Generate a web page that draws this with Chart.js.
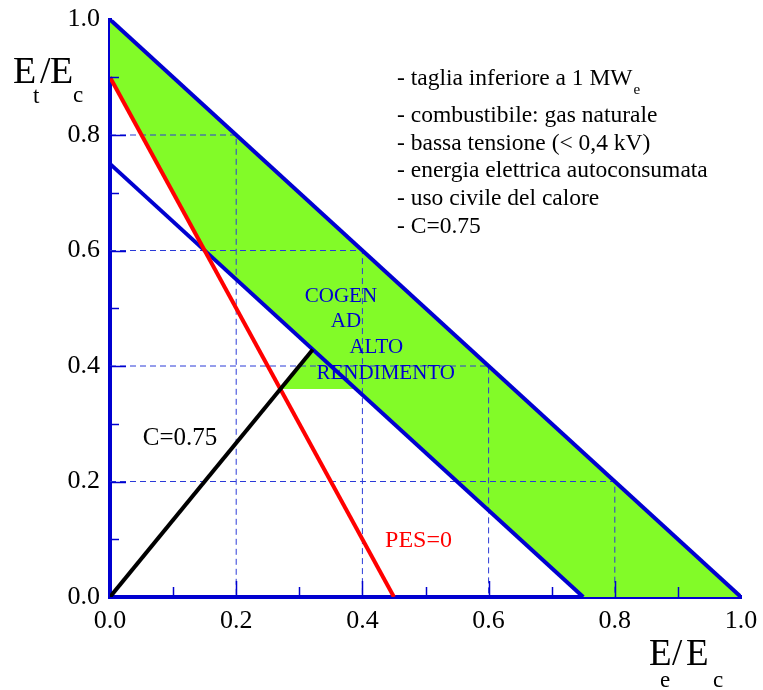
<!DOCTYPE html>
<html>
<head>
<meta charset="utf-8">
<script src="https://cdn.jsdelivr.net/npm/chart.js@4.4.0/dist/chart.umd.min.js"></script>
<style>
  html, body { margin: 0; padding: 0; background: #fff; }
  #wrap { width: 763px; height: 690px; position: relative; }
</style>
</head>
<body>
<div id="wrap"><canvas id="cogenChart"></canvas></div>
<script>
// x = Ee/Ec, y = Et/Ec
const outerLine = [{x: 0, y: 1.0}, {x: 1.0, y: 0}];
const innerLine = [{x: 0, y: 0.75}, {x: 0.75, y: 0}];
const pesLine = [{x: 0, y: 0.9}, {x: 0.45, y: 0}];
const cLine = [{x: 0, y: 0}, {x: 0.3214, y: 0.4286}];
// high efficiency area (closed shape)
const greenRegion = [
    {x: 0, y: 1.0}, {x: 1.0, y: 0}, {x: 0.75, y: 0}, {x: 0.39, y: 0.36},
    {x: 0.27, y: 0.36}, {x: 0.3214, y: 0.4286}, {x: 0.15, y: 0.6}, {x: 0, y: 0.9}
];
// dashed reference corners on the outer line
const guideCorners = [[0.2, 0.8], [0.4, 0.6], [0.6, 0.4], [0.8, 0.2]];

const legendLines = [
    '- taglia inferiore a 1 MW',
    '- combustibile: gas naturale',
    '- bassa tensione (< 0,4 kV)',
    '- energia elettrica autoconsumata',
    '- uso civile del calore',
    '- C=0.75'
];
const regionLabels = [
    {text: 'COGEN', x: 0.366, y: 0.511},
    {text: 'AD', x: 0.374, y: 0.4675},
    {text: 'ALTO', x: 0.422, y: 0.4225},
    {text: 'RENDIMENTO', x: 0.437, y: 0.3775}
];
const curveLabels = [
    {text: 'C=0.75', x: 0.052, y: 0.263, color: '#000000', size: 25},
    {text: 'PES=0', x: 0.436, y: 0.087, color: '#ff0000', size: 24}
];

const BLUE = '#0000d0';
const SERIF = '"Liberation Serif", "DejaVu Serif", serif';

const guideSets = guideCorners.map(c => ({
    data: [{x: 0, y: c[1]}, {x: c[0], y: c[1]}, {x: c[0], y: 0}],
    borderColor: '#2a3ad8',
    borderWidth: 1,
    borderDash: [6, 4],
    pointRadius: 0,
    fill: false,
    order: 5
}));

const isMajor = v => Math.round(v * 10) % 2 === 0;

// inward tick marks, texts
const extrasPlugin = {
    id: 'extras',
    afterDraw(chart) {
        const {ctx, chartArea, scales} = chart;
        const xs = scales.x, ys = scales.y;
        ctx.save();
        ctx.strokeStyle = BLUE;
        ctx.lineWidth = 1.5;
        ys.ticks.forEach(t => {
            if (t.value <= 0 || t.value >= 1) return;
            const py = Math.round(ys.getPixelForValue(t.value)) + 0.5;
            const len = isMajor(t.value) ? 16 : 9;
            ctx.beginPath();
            ctx.moveTo(chartArea.left, py);
            ctx.lineTo(chartArea.left + len, py);
            ctx.stroke();
        });
        xs.ticks.forEach(t => {
            if (t.value <= 0 || t.value >= 1) return;
            const px = Math.round(xs.getPixelForValue(t.value)) + 0.5;
            const len = isMajor(t.value) ? 16 : 10;
            ctx.beginPath();
            ctx.moveTo(px, chartArea.bottom);
            ctx.lineTo(px, chartArea.bottom - len);
            ctx.stroke();
        });

        ctx.textBaseline = 'alphabetic';
        // region labels
        ctx.fillStyle = BLUE;
        ctx.textAlign = 'center';
        ctx.font = '21px ' + SERIF;
        regionLabels.forEach(l => {
            ctx.fillText(l.text, xs.getPixelForValue(l.x), ys.getPixelForValue(l.y));
        });
        ctx.textAlign = 'left';
        curveLabels.forEach(l => {
            ctx.fillStyle = l.color;
            ctx.font = l.size + 'px ' + SERIF;
            ctx.fillText(l.text, xs.getPixelForValue(l.x), ys.getPixelForValue(l.y));
        });

        // notes
        ctx.fillStyle = '#000';
        ctx.font = '23.5px ' + SERIF;
        const baselines = [85, 122, 150, 177, 205, 233];
        legendLines.forEach((s, i) => ctx.fillText(s, 397, baselines[i]));
        const w0 = ctx.measureText(legendLines[0]).width;
        ctx.font = '15px ' + SERIF;
        ctx.fillText('e', 398 + w0, 94);

        // axis titles
        ctx.font = '38px ' + SERIF;
        ctx.fillText('E', 13, 83);
        ctx.fillText('/', 40, 83);
        ctx.fillText('E', 50, 83);
        ctx.font = '23px ' + SERIF;
        ctx.fillText('t', 33, 103);
        ctx.fillText('c', 73, 102);

        ctx.font = '37px ' + SERIF;
        ctx.fillText('E', 649, 665);
        ctx.fillText('/', 672, 665);
        ctx.fillText('E', 686, 665);
        ctx.font = '23px ' + SERIF;
        ctx.fillText('e', 660, 687);
        ctx.fillText('c', 713, 687);
        ctx.restore();
    }
};

const ctx = document.getElementById('cogenChart').getContext('2d');
const cogenChart = new Chart(ctx, {
    type: 'line',
    data: {
        datasets: [
            {data: cLine, borderColor: '#000000', borderWidth: 4, pointRadius: 0, fill: false, order: 1},
            {data: pesLine, borderColor: '#ff0000', borderWidth: 4, pointRadius: 0, fill: false, order: 2},
            {data: outerLine, borderColor: BLUE, borderWidth: 4, pointRadius: 0, fill: false, order: 3},
            {data: innerLine, borderColor: BLUE, borderWidth: 4, pointRadius: 0, fill: false, order: 3},
            ...guideSets,
            {data: greenRegion, borderWidth: 0, borderColor: 'rgba(0,0,0,0)',
             backgroundColor: '#82fb28', pointRadius: 0, fill: 'shape', order: 9}
        ]
    },
    options: {
        responsive: true,
        maintainAspectRatio: false,
        animation: false,
        layout: {padding: {top: 19.5, right: 22, left: 0, bottom: 0}},
        plugins: {
            legend: {display: false},
            tooltip: {enabled: false}
        },
        scales: {
            x: {
                type: 'linear',
                min: 0,
                max: 1,
                afterFit: s => { s.height = 93; s.paddingLeft = 0; s.paddingRight = 0; },
                grid: {drawOnChartArea: false, drawTicks: false},
                border: {color: BLUE, width: 4},
                ticks: {
                    stepSize: 0.1,
                    autoSkip: false,
                    maxRotation: 0,
                    padding: 9,
                    color: '#000',
                    font: {family: SERIF, size: 26},
                    callback: v => isMajor(v) ? v.toFixed(1) : ''
                }
            },
            y: {
                type: 'linear',
                min: 0,
                max: 1,
                afterFit: s => { s.width = 110; s.paddingTop = 0; s.paddingBottom = 0; },
                grid: {drawOnChartArea: false, drawTicks: false},
                border: {color: BLUE, width: 4},
                ticks: {
                    stepSize: 0.1,
                    autoSkip: false,
                    padding: 10,
                    color: '#000',
                    font: {family: SERIF, size: 26},
                    callback: v => isMajor(v) ? v.toFixed(1) : ''
                }
            }
        }
    },
    plugins: [extrasPlugin]
});
</script>
</body>
</html>
